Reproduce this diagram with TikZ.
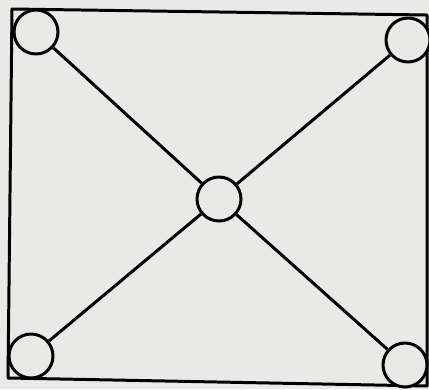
\documentclass[tikz,border=0pt]{standalone}
\begin{document}
\begin{tikzpicture}[x=0.02cm,y=-0.02cm,
  edge/.style={line width=1.7pt,line join=round},
  ring/.style={circle,draw,line width=1.7pt,minimum size=0.88cm,inner sep=0pt,fill=paper},
  every node/.style={}]
\definecolor{paper}{HTML}{E9E9E7}
\fill[paper] (0,0) rectangle (429,389);
\useasboundingbox (0,0) rectangle (429,389);
\draw[edge] (12,9) -- (427,15) -- (427,386) -- (8,378) -- cycle;
\node[ring] (tl) at (36,32) {};
\node[ring] (tr) at (408,40) {};
\node[ring] (bl) at (31,356) {};
\node[ring] (br) at (405,365) {};
\node[ring] (c) at (219,199) {};
\draw[edge] (tl) -- (c);
\draw[edge] (tr) -- (c);
\draw[edge] (bl) -- (c);
\draw[edge] (br) -- (c);
\end{tikzpicture}
\end{document}
